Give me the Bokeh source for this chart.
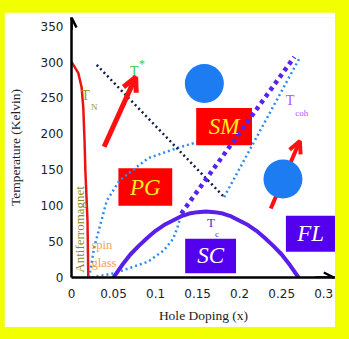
from bokeh.plotting import figure
from bokeh.models import Arrow, OpenHead, FixedTicker, Range1d
from bokeh.core.properties import value
from bokeh.embed import file_html
from bokeh.resources import INLINE

# ---- data (hole doping x, temperature K) ----
x_ticks = [0, 0.05, 0.1, 0.15, 0.2, 0.25, 0.3]
x_tick_labels = ["0", "0.05", "0.1", "0.15", "0.2", "0.25", "0.3"]
y_ticks = [0, 50, 100, 150, 200, 250, 300, 350]

tn_x = [0, 0.008, 0.012, 0.014, 0.0155, 0.0165, 0.019, 0.020]
tn_y = [300, 285, 265, 237, 191, 149, 80, 0]

tc_x = [0.05, 0.06, 0.07, 0.08, 0.09, 0.10, 0.11, 0.12, 0.13, 0.14, 0.15, 0.16,
        0.17, 0.18, 0.19, 0.20, 0.21, 0.22, 0.23, 0.24, 0.25, 0.26, 0.27]
tc_y = [0, 17, 32, 44, 55, 65, 73, 79, 85, 89, 91, 92,
        91, 89, 85, 79, 73, 65, 55, 44, 32, 17, 0]

tstar_x = [0.030, 0.1815]
tstar_y = [296, 112]

tcoh_x = [0.1815, 0.271]
tcoh_y = [112, 305]

purple_x = [0.1305, 0.265]
purple_y = [89, 307]

pg_x = [0.021, 0.027, 0.042, 0.057, 0.091, 0.125, 0.148, 0.172]
pg_y = [0, 42, 107, 135, 166, 180, 188, 197]

sg_x = [0.024, 0.051, 0.071, 0.091, 0.110, 0.121, 0.127, 0.1305]
sg_y = [0, 6, 14, 22, 38, 54, 73, 89]

# phase regions: name, x0, x1, T0, T1
regions = {
    "SM": (0.1483, 0.2147, 184, 236),
    "PG": (0.0558, 0.1198, 100, 152),
    "SC": (0.1352, 0.1957, 6, 54),
    "FL": (0.255, 0.314, 36, 86),
}

# spins (blue circles)
spin_x = [0.158, 0.2515]
spin_y = [270, 137]

YELLOW = "#F2FF00"
RED = "#FF0000"
VIOLET = "#5300EE"
LBLUE = "#2F8BEF"
NAVY = "#0C1E48"
SERIF = value("Liberation Serif")

p = figure(width=331, height=315, x_range=Range1d(0, 0.314), y_range=Range1d(0, 362),
           output_backend="svg", toolbar_location=None,
           min_border_left=66, min_border_right=0, min_border_top=5, min_border_bottom=50)
p.background_fill_color = "white"
p.border_fill_color = "white"
p.outline_line_color = None
p.xgrid.visible = False
p.ygrid.visible = False

for ax in (p.xaxis[0], p.yaxis[0]):
    ax.axis_line_color = "black"
    ax.axis_line_width = 2.5
    ax.major_tick_line_color = None
    ax.minor_tick_line_color = None
    ax.major_tick_out = 0
    ax.major_tick_in = 0
    ax.major_label_text_font = "DejaVu Sans"
    ax.major_label_text_font_size = "12px"
    ax.major_label_text_color = "#222222"
    ax.axis_label_text_font = "Liberation Serif"
    ax.axis_label_text_font_style = "normal"
    ax.axis_label_text_font_size = "13.5px"
    ax.axis_label_text_color = "#222222"

p.xaxis.ticker = FixedTicker(ticks=x_ticks)
p.xaxis.major_label_overrides = dict(zip(x_ticks, x_tick_labels))
p.yaxis.ticker = FixedTicker(ticks=y_ticks)
p.xaxis.major_label_standoff = 11
p.yaxis.major_label_standoff = 8
p.xaxis.axis_label = "Hole Doping (x)"
p.yaxis.axis_label = "Temperature (Kelvin)"
p.xaxis.axis_label_standoff = 7
p.yaxis.axis_label_standoff = 15

# axis arrow heads
p.add_layout(Arrow(end=OpenHead(size=10, line_width=2.5, line_color="black"),
                   x_start=0, y_start=345, x_end=0, y_end=362, line_width=2.5, line_color="black"))
p.add_layout(Arrow(end=OpenHead(size=10, line_width=2.5, line_color="black"),
                   x_start=0.29, y_start=0, x_end=0.312, y_end=0, line_width=2.5, line_color="black"))

def box(name, color):
    x0, x1, y0, y1 = regions[name]
    p.quad(left=[x0], right=[x1], bottom=[y0], top=[y1], fill_color=color, line_color=None)

def label(name, color):
    x0, x1, y0, y1 = regions[name]
    p.text(x=[(x0 + x1) / 2], y=[(y0 + y1) / 2], text=[name], text_color=color,
           text_font=SERIF, text_font_size=value("23px"), text_font_style="italic",
           text_align="center", text_baseline="middle")

box("PG", RED)
box("SC", VIOLET)
box("FL", VIOLET)

# lines
p.line(tn_x, tn_y, line_color="#EE1111", line_width=2.5)
p.line(pg_x, pg_y, line_color=LBLUE, line_width=2.5, line_dash="2 3")
p.line(sg_x, sg_y, line_color=LBLUE, line_width=2.5, line_dash="2 3")
p.line(tcoh_x, tcoh_y, line_color=LBLUE, line_width=2.5, line_dash="2 3")
p.line(tstar_x, tstar_y, line_color=NAVY, line_width=2.5, line_dash="2 3")
p.line(tc_x, tc_y, line_color="#5A1EEB", line_width=4)

box("SM", RED)
p.line(purple_x, purple_y, line_color="#5522EE", line_width=4.5, line_dash="4 4")

for n in ("SM", "PG"):
    label(n, "#FFEE22")
for n in ("SC", "FL"):
    label(n, "white")

# arrows and spins
p.add_layout(Arrow(end=OpenHead(size=14, line_width=5, line_color="#FF1010"),
                   x_start=0.0388, y_start=182, x_end=0.0763, y_end=279,
                   line_width=5, line_color="#FF1010"))
p.add_layout(Arrow(end=OpenHead(size=12, line_width=4, line_color="#FF1010"),
                   x_start=0.237, y_start=96, x_end=0.2716, y_end=190,
                   line_width=4, line_color="#FF1010"))
p.scatter(spin_x, spin_y, size=39, fill_color="#1E7CF2", line_color=None, level="overlay")

# small labels
def txt(x, y, s, color, size, **kw):
    p.text(x=[x], y=[y], text=[s], text_color=color, text_font=SERIF,
           text_font_size=value(size), text_align=kw.get("align", "center"),
           text_baseline="middle", angle=kw.get("angle", 0))

txt(0.0166, 254, "T", "#9A9A10", "14px")
txt(0.027, 237, "N", "#9A9A10", "9px")
txt(0.0747, 287, "T", "#3CC83C", "14px")
txt(0.084, 297, "*", "#3CC83C", "12px")
txt(0.260, 247, "T", "#A855F7", "14px")
txt(0.274, 229, "coh", "#A855F7", "9px")
txt(0.166, 77, "T", "#2B3FD9", "13px")
txt(0.173, 61, "c", "#2B3FD9", "9px")
txt(0.0095, 67, "Antiferromagnet", "#8A8A1A", "13px", angle=1.5708)
txt(0.0237, 45, "spin", "#F5A050", "12.5px", align="left")
txt(0.0237, 20, "glass", "#F5A050", "12.5px", align="left")

html = file_html(p, INLINE)
style = ("<style>html,body{margin:0 !important;padding:0 !important;background:%s !important;}"
         "body{padding:12px 0 0 4px !important;}</style>" % YELLOW)
idx = html.rfind("</head>")
html = html[:idx] + style + html[idx:]
open("out.html", "w").write(html)
